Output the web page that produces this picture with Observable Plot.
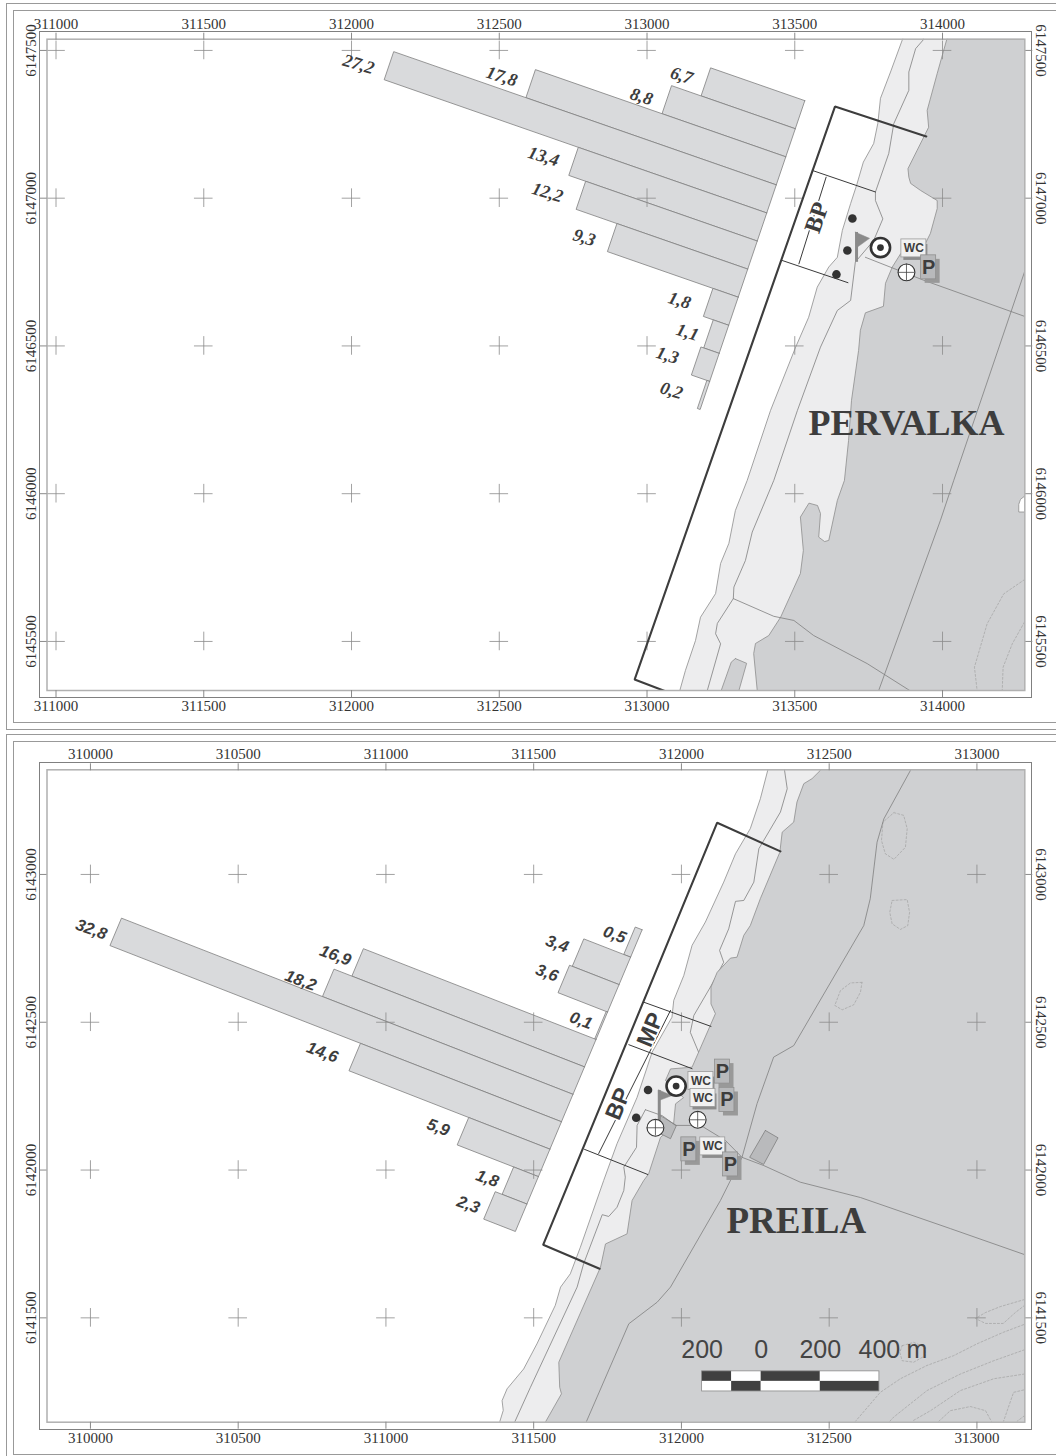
<!DOCTYPE html>
<html><head><meta charset="utf-8">
<script src="https://cdn.jsdelivr.net/npm/d3@7"></script>
<script src="https://cdn.jsdelivr.net/npm/@observablehq/plot@0.6"></script>
<style>
html,body{margin:0;padding:0;background:#fff;overflow:hidden}
#page{position:relative;width:1056px;height:1456px;overflow:hidden}
#page svg{position:absolute;left:0;background:transparent}
.f{position:absolute;box-sizing:border-box;border:1px solid #999}
</style></head><body><div id="page">
<div class="f" style="left:6px;top:3px;width:1070px;height:727px"></div>
<div class="f" style="left:13px;top:10px;width:1070px;height:713px"></div>
<div class="f" style="left:39px;top:31px;width:993px;height:667px;border-color:#808080"></div>
<div class="f" style="left:6px;top:734px;width:1070px;height:760px"></div>
<div class="f" style="left:13px;top:741px;width:1070px;height:714px"></div>
<div class="f" style="left:39px;top:762px;width:993px;height:668px;border-color:#808080"></div>
</div>
<script>
// ---------- PERVALKA (map coordinates, metres) ----------
const pXTicks=[311000,311500,312000,312500,313000,313500,314000];
const pYTicks=[6145500,6146000,6146500,6147000,6147500];
const pBarValues=[6.7,8.8,17.8,27.2,13.4,12.2,9.3,1.8,1.1,1.3,0.2];
const pBarLabels=["6,7","8,8","17,8","27,2","13,4","12,2","9,3","1,8","1,1","1,3","0,2"];
const pLabelX=[313117,312981,312508,312024,312650,312663,312788,313110,313137,313069,313083];
const pLabelY=[6147415,6147344,6147412,6147453,6147141,6147019,6146867,6146654,6146546,6146468,6146349];
const pWest=[[313875,6147568],[313864,6147536],[313824,6147427],[313790,6147338],[313781,6147253],[313767,6147185],[313732,6147122],[313709,6147043],[313689,6146982],[313661,6146891],[313644,6146800],[313615,6146767],[313576,6146699],[313547,6146597],[313503,6146496],[313418,6146282],[313339,6146045],[313299,6145943],[313277,6145832],[313249,6145764],[313232,6145662],[313181,6145582],[313164,6145503],[313130,6145402],[313111,6145334],[313096,6145283],[314400,6145283],[314400,6147568],[313875,6147568]];
const pEast=[[314027,6147585],[314014,6147536],[313982,6147422],[313948,6147297],[313953,6147240],[313914,6147162],[313883,6147100],[313886,6147071],[313892,6147050],[313926,6147026],[313982,6146992],[313982,6146965],[313959,6146881],[313942,6146847],[313858,6146812],[313830,6146767],[313807,6146712],[313800,6146634],[313739,6146612],[313722,6146553],[313716,6146485],[313692,6146316],[313682,6146180],[313668,6146045],[313644,6145977],[313615,6145842],[313601,6145838],[313581,6145853],[313587,6145933],[313577,6145960],[313548,6145968],[313519,6145921],[313529,6145808],[313519,6145730],[313452,6145582],[313412,6145520],[313367,6145493],[313361,6145459],[313373,6145334],[313374,6145283],[314400,6145283],[314400,6147585],[314027,6147585]];
const pMid=[[313935,6147568],[313935,6147536],[313909,6147506],[313886,6147427],[313886,6147365],[313835,6147252],[313818,6147151],[313773,6147021],[313773,6146992],[313798,6146930],[313767,6146857],[313705,6146784],[313689,6146654],[313644,6146620],[313587,6146496],[313509,6146282],[313429,6146045],[313356,6145870],[313333,6145774],[313294,6145684],[313292,6145645],[313238,6145561],[313232,6145526],[313249,6145492],[313204,6145334],[313188,6145283]];
const pIsland=[[313299,6145442],[313337,6145426],[313311,6145334],[313285,6145283],[313233,6145283],[313285,6145430],[313299,6145442]];
const pNotch=[[314290,6145991],[314277,6145991],[314264,6145981],[314258,6145964],[314258,6145938],[314290,6145938],[314290,6145991]];
const pRoads=[
 [[313292,6145645],[313429,6145585],[313497,6145571],[313564,6145520],[313745,6145425],[313889,6145334],[313925,6145310]],
 [[314298,6146796],[314277,6146749],[314038,6146045],[313993,6145910],[313784,6145334],[313763,6145283]],
 [[313739,6146800],[313937,6146722],[314275,6146601],[314315,6146586]]];
const pContours=[
 [[314300,6145725],[314277,6145709],[314207,6145661],[314151,6145560],[314108,6145413],[314117,6145334]],
 [[314277,6145565],[314236,6145492],[314205,6145413],[314202,6145334]]];
const pBound=[[313945,6147209],[313636,6147310],[312958,6145371],[313161,6145294]];
const pZones=[[[313559,6147094],[313773,6147021]],[[313458,6146789],[313680,6146714]],[[313606,6147071],[313514,6146778]]];
const pDots=[[313695,6146931],[313678,6146823],[313641,6146742]];
const pFlag=[[313705,6146885],[313753,6146864],[313711,6146834]];
const pPole=[313709,6146884,6146783];
const pTargets=[[313790,6146833]];
const pCrosses=[[313878,6146749]];
const pWC=[[313903,6146830]];
const pP=[[313953,6146766]];

// ---------- PREILA ----------
const sXTicks=[310000,310500,311000,311500,312000,312500,313000];
const sYTicks=[6141500,6142000,6142500,6143000];
const sBarValues=[0.5,3.4,3.6,0.1,16.9,18.2,32.8,14.6,5.9,1.8,2.3];
const sBarLabels=["0,5","3,4","3,6","0,1","16,9","18,2","32,8","14,6","5,9","1,8","2,3"];
const sLabelX=[311774,311579,311545,311660,310829,310711,310003,310785,311177,311343,311279];
const sLabelY=[6142796,6142765,6142667,6142506,6142726,6142641,6142814,6142398,6142144,6141971,6141883];
const sWest=[[312301,6143403],[312292,6143352],[312267,6143256],[312233,6143155],[312183,6143070],[312143,6142974],[312081,6142839],[312036,6142760],[312008,6142658],[311974,6142574],[311968,6142517],[311901,6142399],[311850,6142246],[311782,6142089],[311737,6141965],[311658,6141739],[311624,6141649],[311591,6141604],[311573,6141542],[311511,6141412],[311466,6141327],[311410,6141260],[311393,6141220],[311397,6141187],[311385,6141148],[311360,6141051],[313300,6141051],[313300,6143403],[312301,6143403]];
const sEast=[[312504,6143403],[312470,6143352],[312442,6143324],[312414,6143307],[312391,6143245],[312380,6143177],[312341,6143143],[312333,6143075],[312267,6142918],[312233,6142827],[312211,6142794],[312188,6142720],[312166,6142717],[312121,6142669],[312100,6142619],[312100,6142562],[312115,6142529],[312036,6142348],[311963,6142342],[311946,6142303],[312007,6142245],[311980,6142224],[311973,6142151],[311929,6142110],[311889,6141987],[311872,6141964],[311833,6141897],[311816,6141784],[311743,6141750],[311726,6141671],[311585,6141350],[311588,6141265],[311594,6141243],[311540,6141148],[311489,6141051],[313300,6141051],[313300,6143403],[312504,6143403]];
const sMid=[
 [[312349,6143403],[312349,6143352],[312358,6143290],[312335,6143211],[312262,6143087],[312245,6142974],[312211,6142912],[312183,6142909],[312160,6142816],[312129,6142743],[312143,6142703],[312098,6142619],[312042,6142523],[312030,6142466],[312058,6142399],[312070,6142380]],
 [[311878,6142204],[311850,6142151],[311848,6142077],[311805,6142010],[311810,6141976],[311805,6141931],[311782,6141874],[311754,6141843],[311732,6141849],[311669,6141683],[311647,6141604],[311489,6141265],[311436,6141148],[311404,6141051]]];
const sRoads=[
 [[311878,6142204],[311935,6142184],[311980,6142151],[312036,6142151],[312075,6142145],[312149,6142100],[312205,6142043],[312279,6142015],[312402,6141959],[312606,6141907],[312910,6141802],[313181,6141707]],
 [[312802,6143403],[312775,6143352],[312685,6143188],[312662,6143109],[312639,6142918],[312617,6142827],[312380,6142421],[312312,6142382],[312256,6142225],[312205,6142043],[312132,6141897],[311963,6141604],[311918,6141553],[311822,6141480],[311678,6141148],[311631,6141051]]];
const sContours=[
 [[312719,6143209],[312752,6143200],[312764,6143155],[312758,6143092],[312719,6143051],[312690,6143070],[312677,6143115],[312682,6143177],[312719,6143209]],
 [[312713,6142912],[312764,6142915],[312772,6142872],[312766,6142827],[312741,6142814],[312713,6142833],[312705,6142872],[312713,6142912]],
 [[312611,6142635],[312572,6142633],[312538,6142607],[312519,6142557],[312544,6142542],[312583,6142559],[312606,6142602],[312611,6142635]],
 [[313158,6141477],[313089,6141451],[313000,6141412],[312921,6141372],[312831,6141339],[312741,6141294],[312673,6141248],[312589,6141150]],
 [[313161,6141392],[313057,6141355],[312944,6141310],[312831,6141254],[312718,6141164],[312705,6141150]],
 [[313161,6141310],[313057,6141294],[312944,6141254],[312843,6141186],[312780,6141150]],
 [[312871,6141150],[312910,6141186],[312978,6141200],[313029,6141186],[313049,6141150]],
 [[313158,6141256],[313124,6141248],[313090,6141150]],
 [[313161,6141169],[313136,6141150]],
 [[313161,6141562],[313079,6141538],[313029,6141518],[312995,6141498],[313029,6141481],[313089,6141481],[313130,6141518],[313161,6141542]],
 [[312747,6141406],[312786,6141417],[312825,6141400],[312825,6141372],[312786,6141350],[312747,6141355],[312739,6141383],[312747,6141406]]];
const sBuildings=[
 [[311929,6142184],[311983,6142151],[311963,6142106],[311915,6142130],[311929,6142184]],
 [[312284,6142134],[312327,6142109],[312278,6142019],[312231,6142043],[312284,6142134]]];
const sBound=[[312335,6143078],[312121,6143175],[311532,6141747],[311723,6141666]];
const sZones=[[[311872,6142568],[312100,6142486]],[[311822,6142424],[312036,6142343]],[[311672,6142070],[311886,6141985]],[[311963,6142540],[311720,6142056]]];
const sDots=[[311887,6142271],[311847,6142177]];
const sFlag=[[311923,6142271],[311968,6142252],[311926,6142236]];
const sPole=[311925,6142269,6142147];
const sTargets=[[311982,6142284]];
const sCrosses=[[311912,6142143],[312055,6142170]];
const sWC=[[312066,6142301],[312073,6142244],[312106,6142080]];
const sP=[[312139,6142333],[312154,6142237],[312025,6142070],[312166,6142019]];
const scaleDist=[-200,-100,0,200,400];
const scaleOrigin=312270;
const scaleRows=[6141319,6141285,6141251];
const scaleLabels=[[-200,"200"],[0,"0"],[200,"200"],[400,"400"]];
const scaleUnit="m";

const SERIF="Liberation Serif", SANS="Liberation Sans", INK="#3d3d3d", LINE="#7f7f7f";

function bars(values,ox,oy,sx,sy,ux,uy,perUnit){
  return values.flatMap((v,i)=>{
    const bx=ox+i*sx,by=oy+i*sy,L=v*perUnit;
    return [[bx,by],[bx+ux*L,by+uy*L],[bx+sx+ux*L,by+sy+uy*L],[bx+sx,by+sy],[bx,by]].map(p=>({x:p[0],y:p[1],z:i}));
  });
}
const grid=(xs,ys)=>xs.flatMap(x=>ys.map(y=>[x,y]));
const ARM=31.5;
const crossMarks=(pts,arm,stroke,sw)=>[
  Plot.ruleX(pts,{x:d=>d[0],y1:d=>d[1]-arm,y2:d=>d[1]+arm,stroke,strokeWidth:sw}),
  Plot.ruleY(pts,{y:d=>d[1],x1:d=>d[0]-arm,x2:d=>d[0]+arm,stroke,strokeWidth:sw})];
function symbols({dots,flag,pole,targets,crosses,wc,p}){
  const M=3.384; // metres per screen pixel
  const box=(pts,w,h,dx,dy,opt)=>Plot.rect(pts,{x1:d=>d[0]-w/2*M+dx*M,x2:d=>d[0]+w/2*M+dx*M,y1:d=>d[1]-h/2*M-dy*M,y2:d=>d[1]+h/2*M-dy*M,...opt});
  return [
    Plot.dot(dots,{x:d=>d[0],y:d=>d[1],r:4.3,fill:"#333"}),
    Plot.ruleX([pole],{x:d=>d[0],y1:d=>d[1],y2:d=>d[2],stroke:"#8a8a8a",strokeWidth:3}),
    Plot.line(flag.concat([flag[0]]),{fill:"#8a8a8a",stroke:"#8a8a8a",strokeWidth:.5}),
    Plot.dot(targets,{x:d=>d[0],y:d=>d[1],r:9.6,fill:"#fff",stroke:"#333",strokeWidth:2.6}),
    Plot.dot(targets,{x:d=>d[0],y:d=>d[1],r:3.4,fill:"#333"}),
    Plot.dot(crosses,{x:d=>d[0],y:d=>d[1],r:8.4,fill:"#fff",stroke:"#333",strokeWidth:1.1}),
    ...crossMarks(crosses,28,"#444",.8),
    box(wc,24,16,2,4,{fill:"#8c8c8c"}),
    box(wc,25,18,0,0,{fill:"#f1f1f1",stroke:"#9a9a9a",strokeWidth:.8}),
    Plot.text(wc,{x:d=>d[0],y:d=>d[1],text:()=>"WC",fontFamily:SANS,fontWeight:700,fontSize:12,fill:INK}),
    box(p,15,24,4,4,{fill:"#999"}),
    box(p,15,24,0,0,{fill:"#b8b9bb",stroke:"#8f8f8f",strokeWidth:.8}),
    Plot.text(p,{x:d=>d[0],y:d=>d[1],text:()=>"P",fontFamily:SANS,fontWeight:700,fontSize:20,fill:INK})
  ];
}
function axes(xt,yt){
  const f=d=>String(d), c={tickFormat:f,tickSize:7,stroke:"#8a8a8a",fontSize:15,label:null,fill:"#333"};
  return [
    Plot.axisX(xt,{anchor:"top",tickPadding:3.5,...c}),
    Plot.axisX(xt,{anchor:"bottom",tickPadding:3,...c}),
    Plot.axisY(yt,{anchor:"left",tickRotate:-90,textAnchor:"middle",tickPadding:4.5,...c}),
    Plot.axisY(yt,{anchor:"right",tickRotate:90,textAnchor:"middle",tickPadding:14.7,...c})
  ];
}
const land=(pts,fill)=>Plot.line(pts,{fill,stroke:"#8d8d8d",strokeWidth:.8,clip:true});
const thin=(lines,opt)=>lines.map(l=>Plot.line(l,{stroke:LINE,strokeWidth:.8,clip:true,...opt}));

function render(top,opts,marks){
  const svg=Plot.plot({width:1056,style:{fontFamily:SERIF,background:"transparent",color:"#333"},...opts,marks});
  svg.style.top=top+"px";
  document.getElementById("page").append(svg);
}

// ---------- upper panel ----------
const pBars=bars(pBarValues,313534,6147330,-32.2,-95,-0.9444,0.3289,50.4);
render(0,{height:731,marginLeft:46.5,marginRight:31.7,marginTop:38.7,marginBottom:41,
  x:{domain:[310969.5,314278.4]},y:{domain:[6145334,6147538]}},[
  land(pWest,"#ededee"),
  ...thin([pMid]),
  land(pEast,"#cfd0d2"),
  land(pIsland,"#cfd0d2"),
  Plot.line(pNotch,{fill:"#fff",stroke:"#8d8d8d",strokeWidth:.8,clip:true}),
  ...thin(pRoads),
  ...thin(pContours,{stroke:"#a2a2a2",strokeDasharray:"2 2",strokeWidth:.7}),
  Plot.line(pBars,{x:"x",y:"y",z:"z",fill:"#d9dadc",stroke:LINE,strokeWidth:.8}),
  ...crossMarks(grid(pXTicks,pYTicks),ARM,"#8a8a8a",.8),
  ...thin(pZones,{stroke:"#3a3a3a",strokeWidth:1}),
  Plot.line(pBound,{stroke:"#3d3d3d",strokeWidth:2.1,clip:true,strokeLinejoin:"miter"}),
  Plot.text(["BP"],{x:()=>313574,y:()=>6146935,rotate:-71,fontFamily:SERIF,fontWeight:700,fontSize:24,fill:INK,stroke:"#fff",strokeWidth:3}),
  ...symbols({dots:pDots,flag:pFlag,pole:pPole,targets:pTargets,crosses:pCrosses,wc:pWC,p:pP}),
  Plot.text(pBarLabels,{x:(d,i)=>pLabelX[i],y:(d,i)=>pLabelY[i],rotate:17,fontFamily:SERIF,fontWeight:700,fontStyle:"italic",fontSize:18,fill:INK}),
  Plot.text(["PERVALKA"],{x:()=>313878,y:()=>6146238,fontFamily:SERIF,fontWeight:700,fontSize:36,fill:INK}),
  Plot.frame({stroke:"#b0b0b0",strokeWidth:1.5}),
  ...axes(pXTicks,pYTicks)
]);

// ---------- lower panel ----------
const sBars=bars(sBarValues,311867,6142813,-39,-92.8,-0.9317,0.3634,50);
const sc=[];
scaleDist.slice(0,-1).forEach((d,i)=>{
  [0,1].forEach(r=>sc.push({x1:scaleOrigin+d,x2:scaleOrigin+scaleDist[i+1],y1:scaleRows[r],y2:scaleRows[r+1],dark:(i+r)%2===0}));
});
render(731,{height:725,marginLeft:46.5,marginRight:31.7,marginTop:38.3,marginBottom:34.3,
  x:{domain:[309853,313162]},y:{domain:[6141147,6143354]}},[
  land(sWest,"#ededee"),
  ...thin(sMid),
  land(sEast,"#cfd0d2"),
  ...thin(sContours,{stroke:"#a2a2a2",strokeDasharray:"2 2",strokeWidth:.7}),
  ...sBuildings.map(b=>Plot.line(b,{fill:"#b9babc",stroke:LINE,strokeWidth:.8})),
  ...thin(sRoads),
  Plot.line(sBars,{x:"x",y:"y",z:"z",fill:"#d9dadc",stroke:LINE,strokeWidth:.8}),
  ...crossMarks(grid(sXTicks,sYTicks),ARM,"#8a8a8a",.8),
  ...thin(sZones,{stroke:"#3a3a3a",strokeWidth:1}),
  Plot.line(sBound,{stroke:"#3d3d3d",strokeWidth:2.1,clip:true,strokeLinejoin:"miter"}),
  Plot.text(["MP"],{x:()=>311895,y:()=>6142475,rotate:-67.5,fontFamily:SANS,fontWeight:700,fontSize:23,fill:INK,stroke:"#fff",strokeWidth:3}),
  Plot.text(["BP"],{x:()=>311786,y:()=>6142224,rotate:-67.5,fontFamily:SANS,fontWeight:700,fontSize:23,fill:INK,stroke:"#fff",strokeWidth:3}),
  ...symbols({dots:sDots,flag:sFlag,pole:sPole,targets:sTargets,crosses:sCrosses,wc:sWC,p:sP}),
  Plot.text(sBarLabels,{x:(d,i)=>sLabelX[i],y:(d,i)=>sLabelY[i],rotate:20,fontFamily:SANS,fontWeight:700,fontStyle:"italic",fontSize:16.5,fill:INK}),
  Plot.text(["PREILA"],{x:()=>312389,y:()=>6141826,fontFamily:SERIF,fontWeight:700,fontSize:37,fill:INK}),
  Plot.rect(sc,{x1:"x1",x2:"x2",y1:"y1",y2:"y2",fill:d=>d.dark?"#404040":"#fff"}),
  Plot.rect([scaleOrigin],{x1:()=>scaleOrigin-200,x2:()=>scaleOrigin+400,y1:()=>scaleRows[2],y2:()=>scaleRows[0],fill:"none",stroke:"#8a8a8a",strokeWidth:.8}),
  Plot.text(scaleLabels,{x:d=>scaleOrigin+d[0],y:()=>6141392,text:d=>d[1],fontFamily:SANS,fontSize:25,fill:"#444"}),
  Plot.text([scaleUnit],{x:()=>scaleOrigin+527,y:()=>6141392,fontFamily:SANS,fontSize:25,fill:"#444"}),
  Plot.frame({stroke:"#b0b0b0",strokeWidth:1.5}),
  ...axes(sXTicks,sYTicks)
]);
</script></body></html>
